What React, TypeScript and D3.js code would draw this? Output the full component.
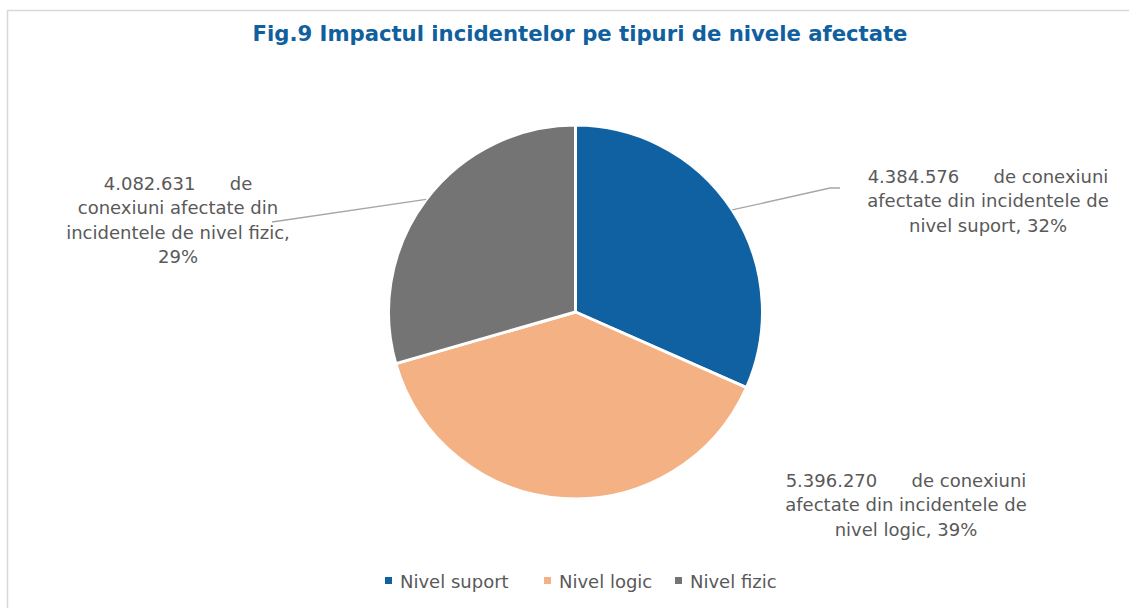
import React from "react";
import * as d3 from "d3";

const categories = ["Nivel suport", "Nivel logic", "Nivel fizic"];
const values = [4384576, 5396270, 4082631];
const valueLabels = ["4.384.576", "5.396.270", "4.082.631"];
const percentLabels = ["32%", "39%", "29%"];
const labelLines = [
  [`${valueLabels[0]}      de conexiuni`, "afectate din incidentele de", `nivel suport, ${percentLabels[0]}`],
  [`${valueLabels[1]}      de conexiuni`, "afectate din incidentele de", `nivel logic, ${percentLabels[1]}`],
  [`${valueLabels[2]}      de`, "conexiuni afectate din", `incidentele de nivel fizic,`, percentLabels[2]],
];
const colors = ["#0F61A2", "#F4B183", "#747474"];
const title = "Fig.9 Impactul incidentelor pe tipuri de nivele afectate";

const W = 1129;
const H = 608;
const cx = 575.5;
const cy = 312;
const R = 187;
const labelPos = [
  { x: 988, y: 183 },
  { x: 906, y: 487 },
  { x: 178, y: 190 },
];
const leaderEnds: ([number, number][] | null)[] = [
  [[830, 188], [840, 188]],
  null,
  [[272, 222]],
];
const lineH = 24.3;
const font = "'DejaVu Sans', sans-serif";
const titleFont = "'DejaVu Sans Condensed', 'DejaVu Sans', sans-serif";

export default function App() {
  const pie = d3.pie<number>().sort(null).value((d) => d)(values);
  const arc = d3.arc<d3.PieArcDatum<number>>().innerRadius(0).outerRadius(R);
  const edge = (a: number) => [cx + R * Math.sin(a), cy - R * Math.cos(a)] as [number, number];
  const legendX = [385, 544, 675];
  return (
    <>
      <style>{`body{margin:0}`}</style>
      <svg width={W} height={H} style={{ display: "block", background: "#fff" }}>
        <rect x={7.5} y={10.5} width={1140} height={620} fill="#fff" stroke="#d9d9d9" strokeWidth={1.5} />
        <text x={580} y={41} textAnchor="middle" fill="#1060A0" fontWeight="bold" fontSize={21}
          fontFamily={titleFont} textLength={655} lengthAdjust="spacingAndGlyphs">{title}</text>
        <g transform={`translate(${cx},${cy})`}>
          {pie.map((p, i) => (
            <path key={i} d={arc(p) || ""} fill={colors[i]} stroke="#fff" strokeWidth={3} strokeLinejoin="round" />
          ))}
        </g>
        {pie.map((p, i) => {
          const ends = leaderEnds[i];
          if (!ends) return null;
          const mid = (p.startAngle + p.endAngle) / 2;
          const pts = [edge(mid), ...ends];
          return <path key={i} d={d3.line()(pts) || ""} fill="none" stroke="#a6a6a6" strokeWidth={1.3} />;
        })}
        {labelLines.map((lines, i) => (
          <text key={i} textAnchor="middle" fill="#595959" fontSize={18} fontFamily={font}>
            {lines.map((l, j) => (
              <tspan key={j} x={labelPos[i].x} y={labelPos[i].y + j * lineH} style={{ whiteSpace: "pre" }}>{l}</tspan>
            ))}
          </text>
        ))}
        {categories.map((c, i) => (
          <g key={c}>
            <rect x={legendX[i]} y={577} width={7} height={7} fill={colors[i]} />
            <text x={legendX[i] + 15} y={588} fill="#595959" fontSize={18} fontFamily={font}>{c}</text>
          </g>
        ))}
      </svg>
    </>
  );
}
